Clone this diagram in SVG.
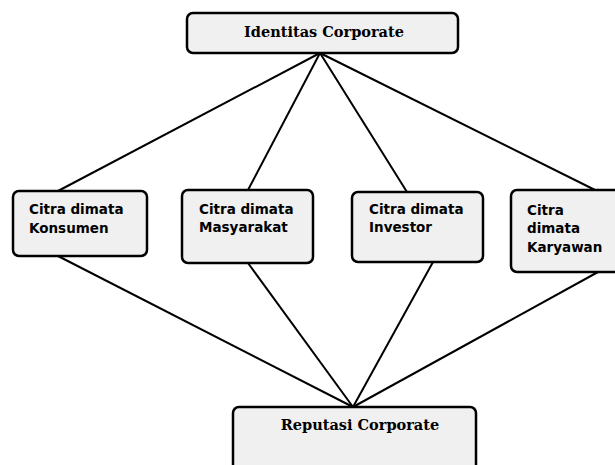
<svg xmlns="http://www.w3.org/2000/svg" width="615" height="465" viewBox="0 0 615 465">
<style>
.box{fill:#f0f0f0;stroke:#000;stroke-width:2.5}
.ln{stroke:#000;stroke-width:2;fill:none}
.ts{font-family:"DejaVu Serif","Liberation Serif",serif;font-weight:bold;font-size:14.5px;fill:#000}
.t{font-family:"DejaVu Sans","Liberation Sans",sans-serif;font-weight:bold;font-size:13.5px;fill:#000}
</style>
<rect width="615" height="465" fill="#fff"/>
<g id="connectors">
<line class="ln" x1="320" y1="53" x2="58" y2="191"/>
<line class="ln" x1="320" y1="53" x2="248" y2="190"/>
<line class="ln" x1="320" y1="53" x2="407" y2="192"/>
<line class="ln" x1="320" y1="53" x2="595" y2="190"/>
<line class="ln" x1="58" y1="256" x2="353" y2="407"/>
<line class="ln" x1="248" y1="263" x2="353" y2="407"/>
<line class="ln" x1="433" y1="262" x2="353" y2="407"/>
<line class="ln" x1="598" y1="272" x2="353" y2="407"/>
</g>
<g id="identitas">
<rect class="box" x="187" y="13" width="271" height="40" rx="6"/>
<text class="ts" x="324" y="37" text-anchor="middle">Identitas Corporate</text>
</g>
<g id="konsumen">
<rect class="box" x="13" y="191" width="134" height="65" rx="6"/>
<text class="t" x="29" y="214">Citra dimata</text>
<text class="t" x="29" y="233">Konsumen</text>
</g>
<g id="masyarakat">
<rect class="box" x="182" y="190" width="131" height="73" rx="6"/>
<text class="t" x="199" y="214">Citra dimata</text>
<text class="t" x="199" y="232">Masyarakat</text>
</g>
<g id="investor">
<rect class="box" x="352" y="192" width="131" height="70" rx="6"/>
<text class="t" x="369" y="214">Citra dimata</text>
<text class="t" x="369" y="232">Investor</text>
</g>
<g id="karyawan">
<rect class="box" x="511" y="190" width="110" height="82" rx="6"/>
<text class="t" x="527" y="215">Citra</text>
<text class="t" x="527" y="233">dimata</text>
<text class="t" x="527" y="252">Karyawan</text>
</g>
<g id="reputasi">
<rect class="box" x="233" y="407" width="243" height="70" rx="6"/>
<text class="ts" x="360" y="430" text-anchor="middle">Reputasi Corporate</text>
</g>
</svg>
